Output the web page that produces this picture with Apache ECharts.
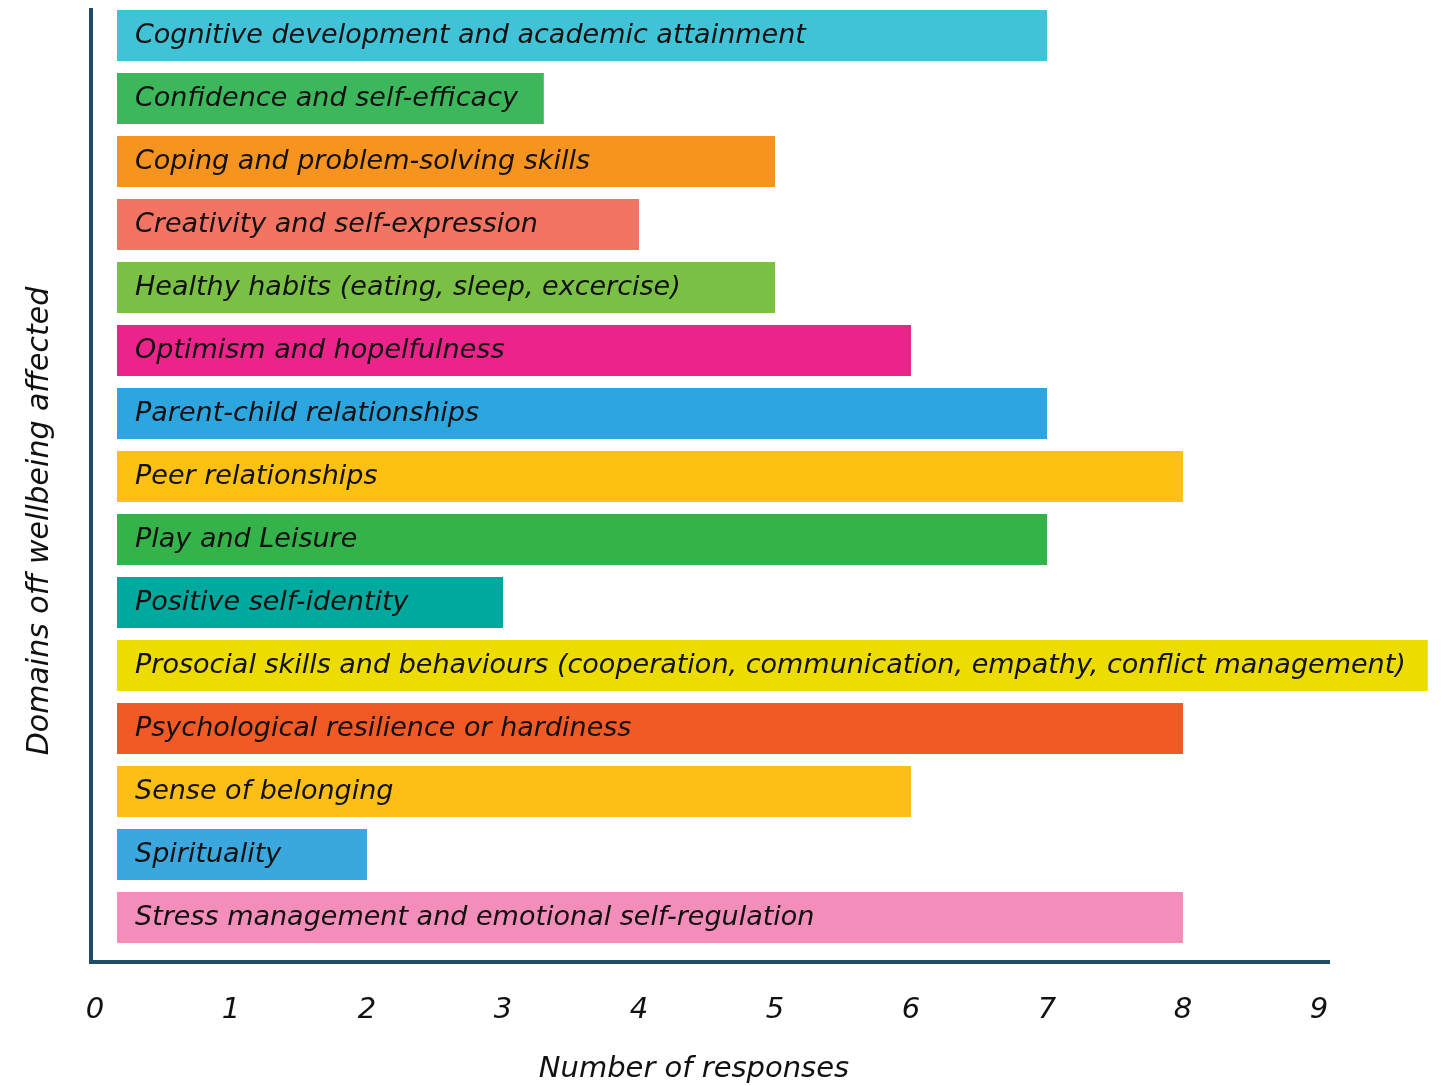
<!DOCTYPE html>
<html>
<head>
<meta charset="utf-8">
<script src="https://cdn.jsdelivr.net/npm/echarts@6/dist/echarts.min.js"></script>
<style>
  html, body { margin: 0; padding: 0; background: #ffffff; }
  #chart { width: 1446px; height: 1086px; }
</style>
</head>
<body>
<div id="chart"></div>
<script>
// Domains of wellbeing and the number of responses mentioning each
var categories = [
  'Cognitive development and academic attainment',
  'Confidence and self-efficacy',
  'Coping and problem-solving skills',
  'Creativity and self-expression',
  'Healthy habits (eating, sleep, excercise)',
  'Optimism and hopelfulness',
  'Parent-child relationships',
  'Peer relationships',
  'Play and Leisure',
  'Positive self-identity',
  'Prosocial skills and behaviours (cooperation, communication, empathy, conflict management)',
  'Psychological resilience or hardiness',
  'Sense of belonging',
  'Spirituality',
  'Stress management and emotional self-regulation'
];
var responses = [7, 3.3, 5, 4, 5, 6, 7, 8, 7, 3, 9.8, 8, 6, 2, 8];
var barColors = [
  '#41C3D7', '#3DB75B', '#F7941F', '#F47463', '#7AC044',
  '#EC238B', '#2DA5DF', '#FDC111', '#34B34B', '#00A99D',
  '#EDDC00', '#F15A25', '#FDBF15', '#3AA8DF', '#F38DB9'
];
var tickValues = [0, 1, 2, 3, 4, 5, 6, 7, 8, 9];

// Layout constants
var AXIS_COLOR = '#1E4D6A';
var X_MIN = -4 / 136;
var X_MAX = 1233 / 136;
var BAR_BASE = 22 / 136;   // bars begin slightly to the right of zero
var FONT = '"DejaVu Sans", "Open Sans", sans-serif';

var chart = echarts.init(document.getElementById('chart'), null, { renderer: 'canvas' });

chart.setOption({
  backgroundColor: '#ffffff',
  animation: false,
  grid: [
    { left: 91, top: 10, width: 1237, height: 952 },
    { left: 91, top: 4, width: 1237, height: 945 }
  ],
  xAxis: [
    {
      type: 'value', gridIndex: 0, min: X_MIN, max: X_MAX,
      axisLine: { show: true, onZero: false, lineStyle: { color: AXIS_COLOR, width: 4, cap: 'square' } },
      axisTick: { show: false },
      splitLine: { show: false },
      axisLabel: {
        customValues: tickValues,
        margin: 34,
        color: '#111111',
        fontFamily: FONT,
        fontStyle: 'italic',
        fontSize: 29,
        formatter: function (v) { return String(v); }
      }
    },
    {
      type: 'value', gridIndex: 1, min: X_MIN, max: X_MAX, show: false
    }
  ],
  yAxis: [
    {
      type: 'value', gridIndex: 0, min: 0, max: 1,
      axisLine: { show: true, onZero: false, lineStyle: { color: AXIS_COLOR, width: 4, cap: 'square' } },
      axisTick: { show: false }, axisLabel: { show: false }, splitLine: { show: false }
    },
    {
      type: 'category', gridIndex: 1, inverse: true, data: categories, show: false
    }
  ],
  graphic: [
    {
      type: 'text', x: 694, y: 1069,
      style: {
        text: 'Number of responses', fill: '#111111',
        font: 'italic 29px ' + FONT, align: 'center', verticalAlign: 'middle'
      }
    },
    {
      type: 'text', x: 40, y: 521, rotation: Math.PI / 2,
      style: {
        text: 'Domains off wellbeing affected', fill: '#111111',
        font: 'italic 30px ' + FONT, align: 'center', verticalAlign: 'middle'
      }
    }
  ],
  series: [
    {
      type: 'custom',
      xAxisIndex: 1,
      yAxisIndex: 1,
      clip: false,
      encode: { x: 0, y: 1 },
      data: responses.map(function (v, i) { return [v, i]; }),
      renderItem: function (params, api) {
        var i = params.dataIndex;
        var row = api.value(1);
        var start = api.coord([BAR_BASE, row]);
        var end = api.coord([api.value(0), row]);
        var h = api.size([0, 1])[1] * 0.81;
        return {
          type: 'group',
          children: [
            {
              type: 'rect',
              shape: { x: start[0], y: start[1] - h / 2, width: end[0] - start[0], height: h },
              style: { fill: barColors[i] }
            },
            {
              type: 'text',
              x: start[0] + 18, y: start[1],
              style: {
                text: categories[i], fill: '#111111',
                font: 'italic 27px ' + FONT, align: 'left', verticalAlign: 'middle'
              }
            }
          ]
        };
      }
    }
  ]
});
</script>
</body>
</html>
